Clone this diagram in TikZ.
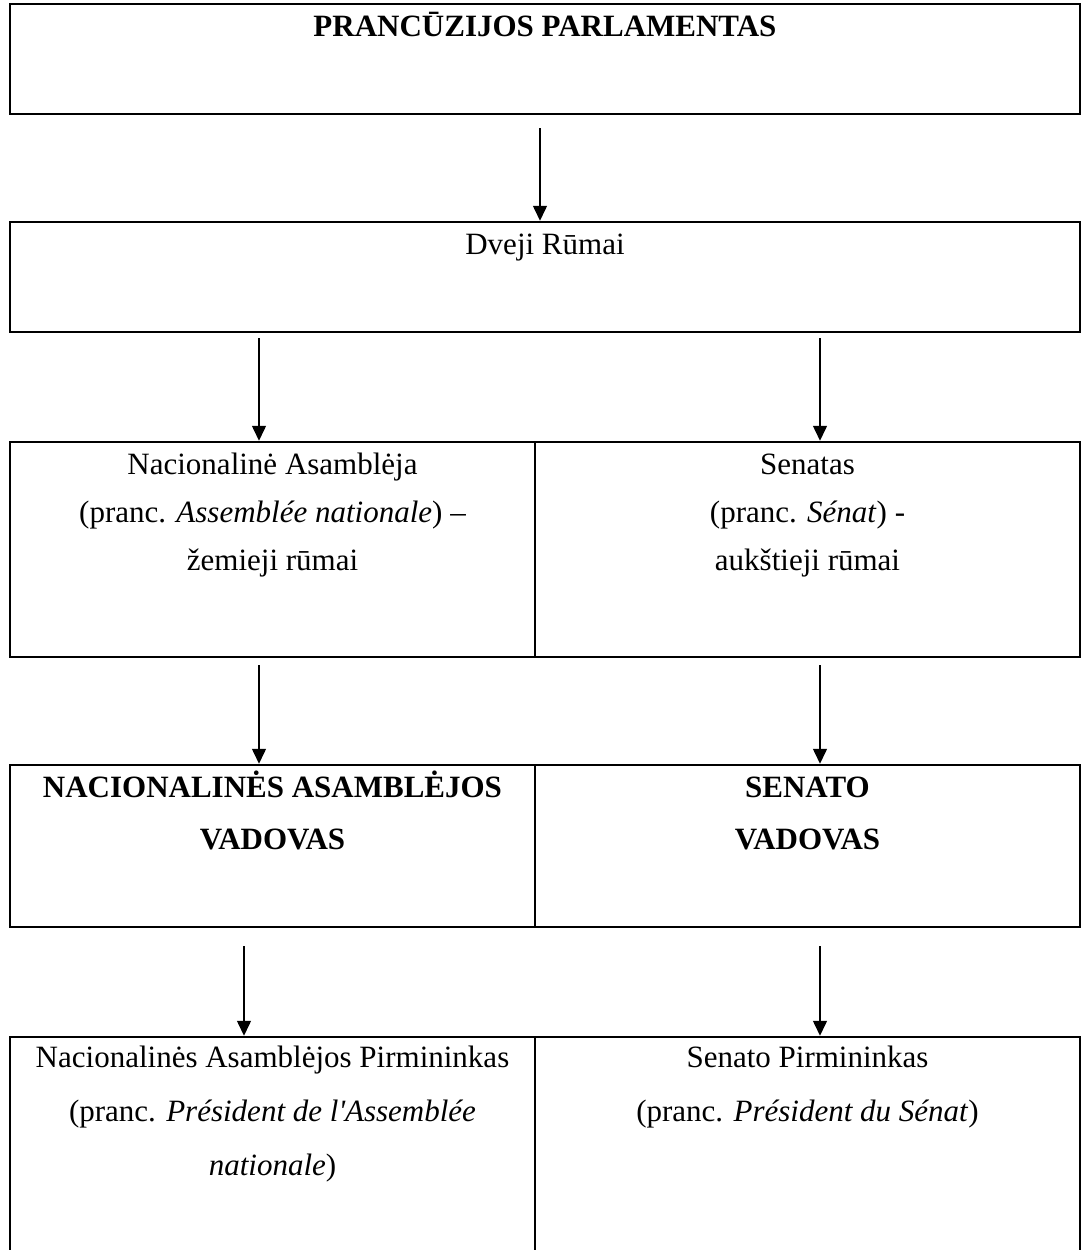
\documentclass[tikz,border=0pt]{standalone}
\usepackage{fontspec}
\setmainfont{Liberation Serif}
\usetikzlibrary{arrows.meta}
\tikzstyle{box}=[rectangle,draw=black,line width=2.5pt,inner sep=0pt]
\tikzstyle{txt}=[align=center,inner sep=0pt,anchor=base]
\tikzstyle{conn}=[-{Triangle[width=14pt,length=15pt]},line width=1.5pt]

\begin{document}
\begin{tikzpicture}[x=1pt,y=-1pt,font=\fontsize{31}{48}\selectfont]
  \useasboundingbox (0,0) rectangle (1083,1250);
  % boxes
  \node[box,minimum width=1070pt,minimum height=110pt] (parl) at (545,59) {};
  \node[box,minimum width=1070pt,minimum height=110pt] (rumai) at (545,277) {};
  \node[box,minimum width=525pt,minimum height=215pt] (asamb) at (272.5,549.5) {};
  \node[box,minimum width=545pt,minimum height=215pt] (senat) at (807.5,549.5) {};
  \node[box,minimum width=525pt,minimum height=162pt] (asambvad) at (272.5,846) {};
  \node[box,minimum width=545pt,minimum height=162pt] (senatvad) at (807.5,846) {};
  \node[box,minimum width=525pt,minimum height=253pt] (asambpirm) at (272.5,1163.5) {};
  \node[box,minimum width=545pt,minimum height=253pt] (senatpirm) at (807.5,1163.5) {};
  % texts (base = last line)
  \node[txt] (parltxt) at ([yshift=-34pt]parl.north) {\textbf{PRANCŪZIJOS PARLAMENTAS}};
  \node[txt] (rumaitxt) at ([yshift=-34pt]rumai.north) {Dveji Rūmai};
  \node[txt] (asambtxt) at ([yshift=-130pt]asamb.north)
    {Nacionalinė Asamblėja\\(pranc. \textit{Assemblée nationale}) –\\žemieji rūmai};
  \node[txt] (senattxt) at ([yshift=-130pt]senat.north)
    {Senatas\\(pranc. \textit{Sénat}) -\\aukštieji rūmai};
  \node[txt,font=\fontsize{31}{52}\selectfont\bfseries] (asambvadtxt) at ([yshift=-86pt]asambvad.north)
    {NACIONALINĖS ASAMBLĖJOS\\VADOVAS};
  \node[txt,font=\fontsize{31}{52}\selectfont\bfseries] (senatvadtxt) at ([yshift=-86pt]senatvad.north)
    {SENATO\\VADOVAS};
  \node[txt,font=\fontsize{31}{54}\selectfont] (asambpirmtxt) at ([yshift=-140pt]asambpirm.north)
    {Nacionalinės Asamblėjos Pirmininkas\\(pranc. \textit{Président de l\textquotesingle Assemblée}\\\textit{nationale})};
  \node[txt,font=\fontsize{31}{54}\selectfont] (senatpirmtxt) at ([yshift=-86pt]senatpirm.north)
    {Senato Pirmininkas\\(pranc. \textit{Président du Sénat})};
  % arrows
  \coordinate (a1) at (540,128);
  \coordinate (a2) at (259,338);
  \coordinate (a3) at (820,338);
  \coordinate (a4) at (259,665);
  \coordinate (a5) at (820,665);
  \coordinate (a6) at (244,946);
  \coordinate (a7) at (820,946);
  \draw[conn] (a1) -- (a1 |- rumai.north);
  \draw[conn] (a2) -- (a2 |- asamb.north);
  \draw[conn] (a3) -- (a3 |- senat.north);
  \draw[conn] (a4) -- (a4 |- asambvad.north);
  \draw[conn] (a5) -- (a5 |- senatvad.north);
  \draw[conn] (a6) -- (a6 |- asambpirm.north);
  \draw[conn] (a7) -- (a7 |- senatpirm.north);
\end{tikzpicture}
\end{document}
